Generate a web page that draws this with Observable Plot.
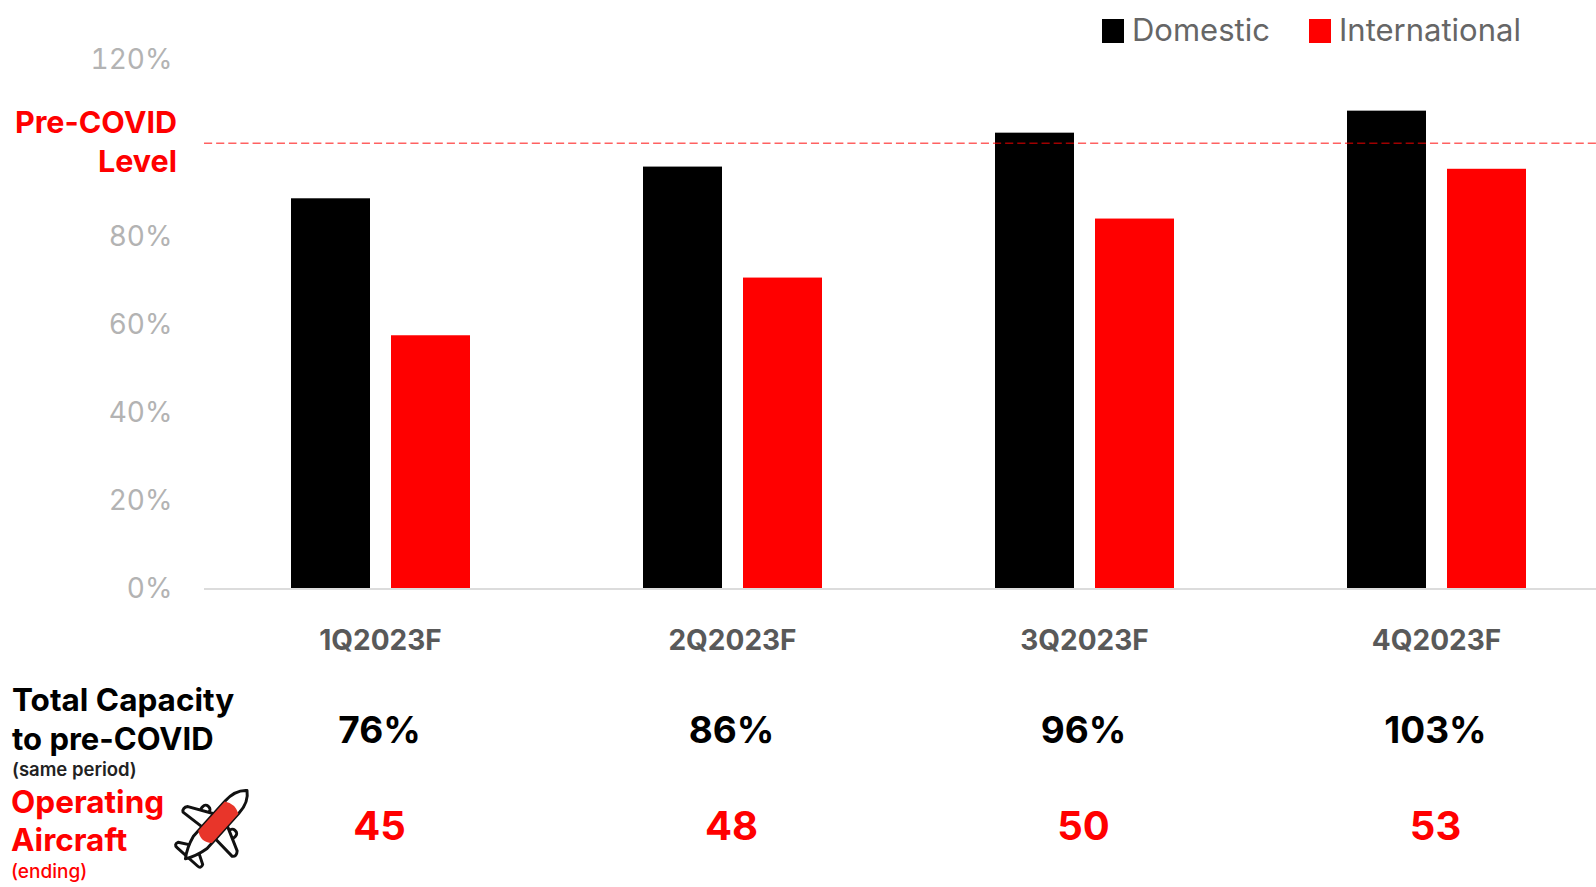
<!DOCTYPE html>
<html>
<head>
<meta charset="utf-8">
<script src="https://cdn.jsdelivr.net/npm/d3@7"></script>
<script src="https://cdn.jsdelivr.net/npm/@observablehq/plot@0.6"></script>
<style>
html,body{margin:0;padding:0;background:#fff;overflow:hidden;width:1596px;height:887px}
body{position:relative;font-family:Inter,"Noto Sans",sans-serif}
.t{position:absolute;white-space:nowrap;transform:translateY(-50%);line-height:1}
.sw{position:absolute;width:22px;height:24px;top:19px}
svg{display:block}
</style>
</head>
<body>
<div id="chart"></div>
<script>
const quarters = ["1Q2023F", "2Q2023F", "3Q2023F", "4Q2023F"];
const seriesNames = ["Domestic", "International"];
const domestic = [88.6, 95.8, 103.5, 108.5];
const international = [57.5, 70.6, 84, 95.3];
const yTicks = [0, 20, 40, 60, 80, 120];
const preCovidLevel = 101.2;
const totalCapacity = ["76%", "86%", "96%", "103%"];
const operatingAircraft = [45, 48, 50, 53];

const bars = quarters.flatMap((q, i) => [
  {q, series: seriesNames[0], value: domestic[i]},
  {q, series: seriesNames[1], value: international[i]}
]);
const rows = quarters.map((q, i) => ({q, cap: totalCapacity[i], ac: String(operatingAircraft[i])}));
const font = "Inter, 'Noto Sans', sans-serif";

const plot = Plot.plot({
  width: 1596, height: 887,
  marginLeft: 204, marginRight: -16, marginTop: 60, marginBottom: 298.5,
  style: {fontFamily: font, background: "#fff", overflow: "hidden"},
  fx: {domain: quarters, padding: 0},
  x: {domain: seriesNames, paddingInner: 0.214, paddingOuter: 0.858},
  y: {domain: [0, 120]},
  color: {domain: seriesNames, range: ["#000000", "#ff0000"]},
  marks: [
    Plot.barY(bars, {fx: "q", x: "series", y: "value", fill: "series"}),
    Plot.ruleY([0], {stroke: "#dcdcdc", strokeWidth: 2}),
    Plot.ruleY([preCovidLevel], {stroke: "#ff0000", strokeOpacity: 0.62, strokeWidth: 1.6, strokeDasharray: "8.14,4"}),
    Plot.axisY({ticks: yTicks, tickSize: 0, tickPadding: 32, tickFormat: d => d + "%", label: null, fontSize: 28, fill: "#b3b3b3", fontWeight: 400, letterSpacing: -1.6}),
    Plot.axisFx({anchor: "bottom", tickSize: 0, tickPadding: 41, label: null, fontSize: 28, fontWeight: 700, fill: "#595959", lineAnchor: "top"}),
    Plot.axisX({ticks: [], label: null}),
    Plot.text(rows, {fx: "q", text: "cap", frameAnchor: "bottom", lineAnchor: "middle", dy: 142.5, dx: -1, fontSize: 37, fontWeight: 700, fill: "#000"}),
    Plot.text(rows, {fx: "q", text: "ac", frameAnchor: "bottom", lineAnchor: "middle", dy: 238.5, dx: -1, fontSize: 40, fontWeight: 700, fill: "#ff0000"})
  ]
});
document.getElementById("chart").appendChild(plot);

// Text and legend around the chart
function label(txt, x, y, size, weight, color, right) {
  const d = document.createElement("div");
  d.className = "t";
  d.textContent = txt;
  d.style.cssText = `top:${y}px;font-size:${size}px;font-weight:${weight};color:${color};` +
    (right ? `right:${1596 - x}px` : `left:${x}px`);
  document.body.appendChild(d);
}
function swatch(x, color) {
  const d = document.createElement("div");
  d.className = "sw";
  d.style.left = x + "px";
  d.style.background = color;
  document.body.appendChild(d);
}
swatch(1102, "#000");
label(seriesNames[0], 1132, 29, 31, 400, "#666");
swatch(1309, "#ff0000");
label(seriesNames[1], 1339, 29, 31, 400, "#666");
label("Pre-COVID", 177, 121.5, 30.5, 700, "#ff0000", true);
label("Level", 177, 160.5, 30.5, 700, "#ff0000", true);
label("Total Capacity", 12, 700, 31.5, 700, "#000");
label("to pre-COVID", 12, 737.5, 31, 700, "#000");
label("(same period)", 12, 769, 18.5, 600, "#222");
label("Operating", 11, 802, 31.5, 700, "#ff0000");
label("Aircraft", 11, 839.5, 31.5, 700, "#ff0000");
label("(ending)", 11, 871, 19, 500, "#ff0000");

// Plane pictogram
const icon = document.createElement("div");
icon.style.cssText = "position:absolute;left:173px;top:780px;width:84px;height:92px";
icon.innerHTML = `<svg width="84" height="92" viewBox="-42 -46 84 92">
<g transform="rotate(42) scale(0.92)" fill="#fff" stroke="#111" stroke-width="3.2" stroke-linejoin="round">
<rect x="-24" y="-11" width="9" height="10" rx="4"/>
<rect x="15" y="-11" width="9" height="10" rx="4"/>
<path d="M-8 -10 L-36 4 Q-40 9 -36 12 L-8 10 Z"/>
<path d="M8 -10 L36 4 Q40 9 36 12 L8 10 Z"/>
<path d="M-4 32 L-18 40 Q-20 45 -15 45 L15 45 Q20 45 18 40 L4 32 Z"/>
<path d="M0 -52 Q10 -44 10 -28 L10 24 Q7 38 0 48 Q-7 38 -10 24 L-10 -28 Q-10 -44 0 -52 Z"/>
<path d="M-10 -27 Q0 -33 10 -27 L10 16 Q0 24 -10 16 Z" fill="#e8352a" stroke="none"/>
</g></svg>`;
document.body.appendChild(icon);
</script>
</body>
</html>
